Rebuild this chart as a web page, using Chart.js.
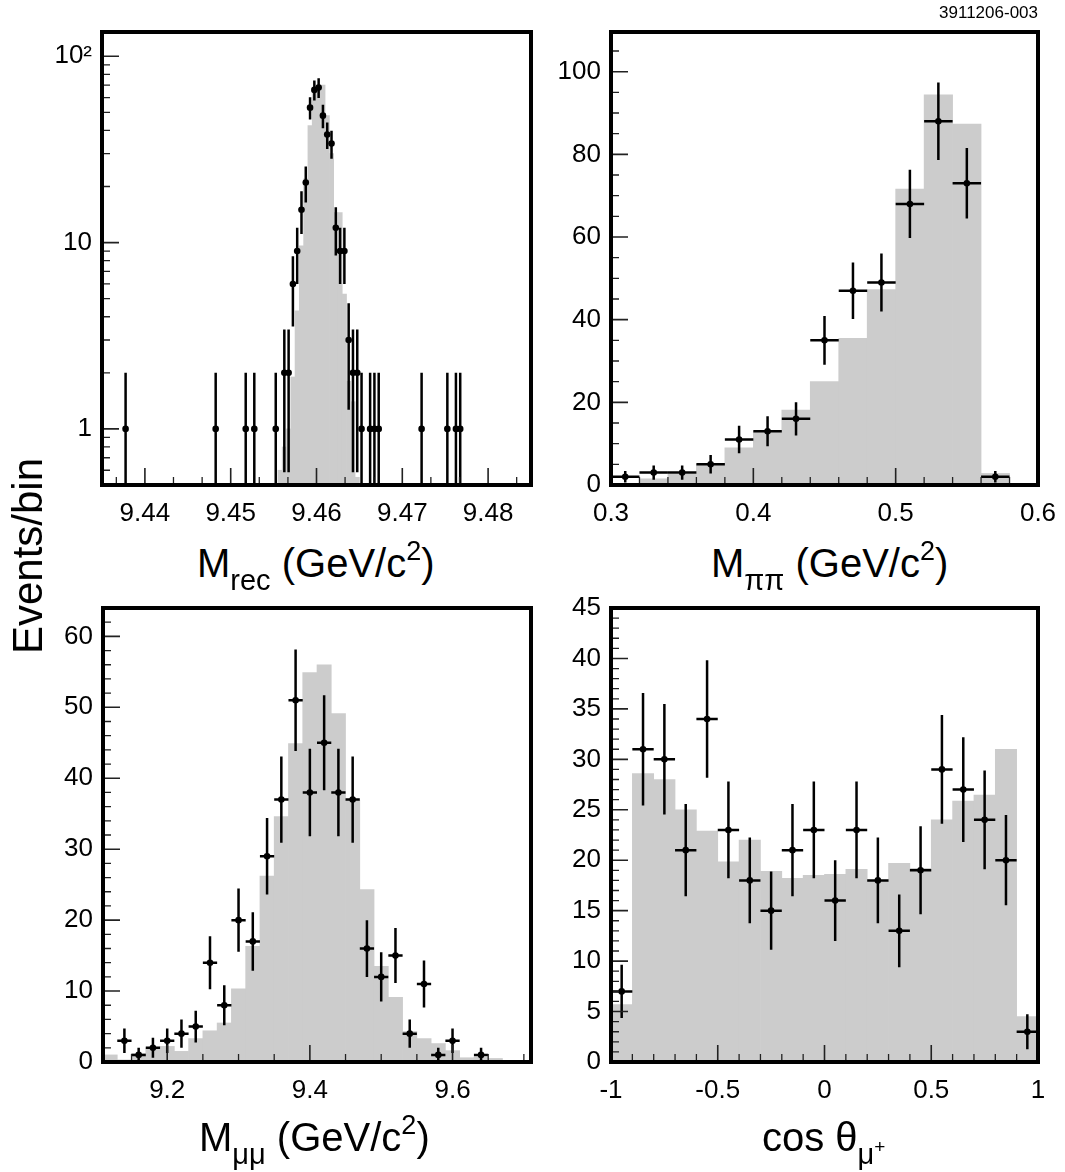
<!DOCTYPE html>
<html>
<head>
<meta charset="utf-8">
<script src="https://cdn.jsdelivr.net/npm/chart.js@4.4.1/dist/chart.umd.min.js"></script>
<style>
  body { margin: 0; background: #fff; width: 1065px; height: 1172px; position: relative; overflow: hidden;
         font-family: "Liberation Sans", Arial, sans-serif; color: #000; }
  canvas { position: absolute; }
  .title { position: absolute; font-size: 40px; line-height: 40px; white-space: nowrap; }
  .sub { font-size: 29px; position: relative; top: 13px; }
  .sup { font-size: 27px; position: relative; top: -17px; }
  .sup2 { font-size: 19px; position: relative; top: -11px; }
  #ylab { position: absolute; left: -102px; top: 536px; width: 260px; height: 40px; line-height: 40px;
          font-size: 42px; text-align: center; transform: rotate(-90deg); white-space: nowrap; }
  #tag { position: absolute; right: 27px; top: 4px; font-size: 17px; line-height: 17px; }
</style>
</head>
<body>
<canvas id="cRec" width="545" height="540" style="left:0;top:0"></canvas>
<canvas id="cPiPi" width="520" height="540" style="left:545px;top:0"></canvas>
<canvas id="cMuMu" width="545" height="530" style="left:0;top:590px"></canvas>
<canvas id="cCos" width="520" height="530" style="left:545px;top:590px"></canvas>

<div id="tag">3911206-003</div>
<div id="ylab">Events/bin</div>
<div class="title" style="left:197px;top:543px">M<span class="sub">rec</span> (GeV/c<span class="sup">2</span>)</div>
<div class="title" style="left:711px;top:543px">M<span class="sub">ππ</span> (GeV/c<span class="sup">2</span>)</div>
<div class="title" style="left:199px;top:1117px">M<span class="sub">μμ</span> (GeV/c<span class="sup">2</span>)</div>
<div class="title" style="left:762px;top:1117px">cos θ<span class="sub">μ<span class="sup2">+</span></span></div>

<script>
// ---- M_rec (0.5 MeV bins, log y) ----
const recPointX = [9.43775, 9.44825, 9.45175, 9.45275, 9.45525, 9.45625, 9.45675, 9.45725, 9.45775, 9.45825,
                   9.45875, 9.45925, 9.45975, 9.46025, 9.46075, 9.46125, 9.46175, 9.46225, 9.46275, 9.46325,
                   9.46375, 9.46425, 9.46475, 9.46525, 9.46625, 9.46675, 9.46725, 9.47225, 9.47525, 9.47625, 9.47675];
const recPointN = [1, 1, 1, 1, 1, 2, 2, 6, 9, 15,
                   21, 53, 66, 68, 48, 38, 34, 12, 9, 9,
                   3, 2, 2, 1, 1, 1, 1, 1, 1, 1, 1];
const recMcX = [9.45575, 9.45625, 9.45675, 9.45725, 9.45775, 9.45825, 9.45875, 9.45925, 9.45975, 9.46025,
                9.46075, 9.46125, 9.46175, 9.46225, 9.46275, 9.46325, 9.46375, 9.46425, 9.46475];
const recMcN = [0.6, 0.8, 1.0, 1.9, 4.3, 9.6, 22, 42.5, 65, 70,
                70, 48, 30, 14.5, 14.5, 5.3, 1.8, 1.4, 0.55];
const recXMajor = [9.44, 9.45, 9.46, 9.47, 9.48];
const recXLabels = ['9.44', '9.45', '9.46', '9.47', '9.48'];
const recXMinor = [9.43667, 9.44333, 9.44667, 9.45333, 9.45667, 9.46333, 9.46667, 9.47333, 9.47667, 9.48333];
const recYMajor = [1, 10, 100];
const recYLabels = ['1', '10', '10²'];
const recYMinor = [0.6, 0.7, 0.8, 0.9, 2, 3, 4, 5, 6, 7, 8, 9, 20, 30, 40, 50, 60, 70, 80, 90];

// ---- M_pipi (20 MeV bins) ----
const pipiMcX = [0.31, 0.33, 0.35, 0.37, 0.39, 0.41, 0.43, 0.45, 0.47, 0.49, 0.51, 0.53, 0.55, 0.57, 0.59];
const pipiMcN = [0.3, 1.5, 2.6, 5.0, 9.0, 12.9, 18.1, 25.0, 35.5, 47.3, 71.6, 94.4, 87.3, 2.8, 0];
const pipiPointX = [0.31, 0.33, 0.35, 0.37, 0.39, 0.41, 0.43, 0.45, 0.47, 0.49, 0.51, 0.53, 0.55, 0.57];
const pipiPointN = [2, 3, 3, 5, 11, 13, 16, 35, 47, 49, 68, 88, 73, 2];
const pipiXMajor = [0.3, 0.4, 0.5, 0.6];
const pipiXLabels = ['0.3', '0.4', '0.5', '0.6'];
const pipiXMinor = [0.32, 0.34, 0.36, 0.38, 0.42, 0.44, 0.46, 0.48, 0.52, 0.54, 0.56, 0.58];
const pipiYMajor = [0, 20, 40, 60, 80, 100];
const pipiYLabels = ['0', '20', '40', '60', '80', '100'];
const pipiYMinor = [5, 10, 15, 25, 30, 35, 45, 50, 55, 65, 70, 75, 85, 90, 95, 105];

// ---- M_mumu (20 MeV bins) ----
const mumuMcX = [9.12, 9.14, 9.16, 9.18, 9.20, 9.22, 9.24, 9.26, 9.28, 9.30,
                 9.32, 9.34, 9.36, 9.38, 9.40, 9.42, 9.44, 9.46, 9.48, 9.50,
                 9.52, 9.54, 9.56, 9.58, 9.60, 9.62, 9.64, 9.66, 9.68, 9.70];
const mumuMcN = [1.0, 0.3, 1.2, 2.0, 2.2, 1.5, 3.3, 4.4, 5.5, 10.3,
                 16.3, 26.2, 34.6, 44.9, 54.9, 56.0, 49.1, 36.9, 24.3, 13.5,
                 9.1, 4.3, 3.3, 2.6, 1.6, 0.6, 0.7, 0.5, 0, 0];
const mumuPointX = [9.14, 9.16, 9.18, 9.20, 9.22, 9.24, 9.26, 9.28, 9.30, 9.32,
                    9.34, 9.36, 9.38, 9.40, 9.42, 9.44, 9.46, 9.48, 9.50, 9.52,
                    9.54, 9.56, 9.58, 9.60, 9.64];
const mumuPointN = [3, 1, 2, 3, 4, 5, 14, 8, 20, 17,
                    29, 37, 51, 38, 45, 38, 37, 16, 12, 15,
                    4, 11, 1, 3, 1];
const mumuXMajor = [9.2, 9.4, 9.6];
const mumuXLabels = ['9.2', '9.4', '9.6'];
const mumuXMinor = [9.15, 9.25, 9.3, 9.35, 9.45, 9.5, 9.55, 9.65, 9.7];
const mumuYMajor = [0, 10, 20, 30, 40, 50, 60];
const mumuYLabels = ['0', '10', '20', '30', '40', '50', '60'];
const mumuYMinor = [2, 4, 6, 8, 12, 14, 16, 18, 22, 24, 26, 28, 32, 34, 36, 38, 42, 44, 46, 48, 52, 54, 56, 58, 62];

// ---- cos theta (0.1 bins) ----
const cosX = [-0.95, -0.85, -0.75, -0.65, -0.55, -0.45, -0.35, -0.25, -0.15, -0.05,
              0.05, 0.15, 0.25, 0.35, 0.45, 0.55, 0.65, 0.75, 0.85, 0.95];
const cosMcN = [5.7, 28.6, 28.0, 25.0, 22.9, 19.85, 22.0, 18.9, 18.2, 18.5,
                18.6, 19.1, 17.9, 19.7, 19.2, 24.0, 25.85, 26.45, 31.0, 4.5];
const cosPointN = [7, 31, 30, 21, 34, 23, 18, 15, 21, 23,
                   16, 23, 18, 13, 19, 29, 27, 24, 20, 3];
const cosXMajor = [-1, -0.5, 0, 0.5, 1];
const cosXLabels = ['-1', '-0.5', '0', '0.5', '1'];
const cosXMinor = [-0.9, -0.8, -0.7, -0.6, -0.4, -0.3, -0.2, -0.1, 0.1, 0.2, 0.3, 0.4, 0.6, 0.7, 0.8, 0.9];
const cosYMajor = [0, 5, 10, 15, 20, 25, 30, 35, 40, 45];
const cosYLabels = ['0', '5', '10', '15', '20', '25', '30', '35', '40', '45'];
const cosYMinor = [];
for (let v = 1; v < 45; v++) if (v % 5 !== 0) cosYMinor.push(v);

const FONT = '"Liberation Sans", Arial, sans-serif';

// sqrt(N) error bars, horizontal bar = bin width
const errorBars = {
    id: 'errorBars',
    afterDatasetsDraw(chart, args, opts) {
        const { ctx, chartArea: a, scales: { x, y } } = chart;
        const pts = chart.data.datasets[1].data;
        ctx.save();
        ctx.beginPath();
        ctx.rect(a.left, a.top, a.right - a.left, a.bottom - a.top);
        ctx.clip();
        ctx.strokeStyle = '#000';
        ctx.lineWidth = 2.5;
        pts.forEach(p => {
            const e = Math.sqrt(p.y);
            const px = x.getPixelForValue(p.x);
            const py = y.getPixelForValue(p.y);
            const lo = (p.y - e) > 0 ? y.getPixelForValue(p.y - e) : a.bottom;
            const hi = y.getPixelForValue(p.y + e);
            ctx.beginPath();
            ctx.moveTo(px, lo);
            ctx.lineTo(px, hi);
            ctx.moveTo(x.getPixelForValue(p.x - opts.halfWidth), py);
            ctx.lineTo(x.getPixelForValue(p.x + opts.halfWidth), py);
            ctx.stroke();
        });
        ctx.restore();
    }
};

// ROOT style frame with inward ticks
const frameTicks = {
    id: 'frameTicks',
    afterDatasetsDraw(chart, args, opts) {
        const { ctx, chartArea: a, scales: { x, y } } = chart;
        ctx.save();
        ctx.strokeStyle = '#222';
        const draw = (vals, len, w, horiz) => {
            ctx.lineWidth = w;
            ctx.beginPath();
            vals.forEach(v => {
                if (horiz) {
                    const px = x.getPixelForValue(v);
                    ctx.moveTo(px, a.bottom);
                    ctx.lineTo(px, a.bottom - len);
                } else {
                    const py = y.getPixelForValue(v);
                    ctx.moveTo(a.left, py);
                    ctx.lineTo(a.left + len, py);
                }
            });
            ctx.stroke();
        };
        draw(opts.xMinor, 8, 1.3, true);
        draw(opts.xMajor, 17, 1.6, true);
        draw(opts.yMinor, 8, 1.3, false);
        draw(opts.yMajor, 17, 1.6, false);
        ctx.strokeStyle = '#000';
        ctx.lineWidth = 4;
        ctx.strokeRect(a.left, a.top, a.right - a.left, a.bottom - a.top);
        ctx.restore();
    }
};

function labelFor(majors, labels) {
    return v => {
        const i = majors.findIndex(m => Math.abs(m - v) < 1e-7);
        return i < 0 ? '' : labels[i];
    };
}

// fixed axis boxes, no extra label padding, so the frame lands where the layout says
function fixBox(size, horiz) {
    return s => {
        if (horiz) s.height = size; else s.width = size;
        s.paddingLeft = s.paddingRight = s.paddingTop = s.paddingBottom = 0;
    };
}

// c.axisW / c.axisH: room kept for the tick labels left of / below the frame
function makePanel(c) {
    const xTicks = c.xMajor.concat(c.xMinor).sort((p, q) => p - q);
    const yTicks = c.yMajor.concat(c.yMinor).sort((p, q) => p - q);
    return new Chart(document.getElementById(c.id), {
        type: 'bar',
        data: {
            datasets: [
                {
                    type: 'bar',
                    data: c.mcX.map((x, i) => ({ x: x, y: c.mcN[i] })),
                    backgroundColor: '#cccccc',
                    borderWidth: 0,
                    barPercentage: 1,
                    categoryPercentage: 1,
                    order: 2
                },
                {
                    type: 'scatter',
                    data: c.ptX.map((x, i) => ({ x: x, y: c.ptN[i] })),
                    pointRadius: 3.3,
                    pointBackgroundColor: '#000',
                    pointBorderWidth: 0,
                    order: 1
                }
            ]
        },
        options: {
            responsive: false,
            animation: false,
            events: [],
            layout: { padding: { left: 0, bottom: 0, top: c.padTop, right: c.padRight } },
            plugins: {
                legend: { display: false },
                tooltip: { enabled: false },
                errorBars: { halfWidth: c.binW / 2 },
                frameTicks: { xMajor: c.xMajor, xMinor: c.xMinor, yMajor: c.yMajor, yMinor: c.yMinor }
            },
            scales: {
                x: {
                    type: 'linear', min: c.xMin, max: c.xMax, offset: false,
                    grid: { display: false, drawTicks: false, offset: false },
                    border: { display: false },
                    afterBuildTicks: s => { s.ticks = xTicks.map(v => ({ value: v })); },
                    afterFit: fixBox(c.axisH, true),
                    ticks: { autoSkip: false, maxRotation: 0, padding: 13, color: '#000',
                             font: { family: FONT, size: 26 }, callback: labelFor(c.xMajor, c.xLabels) }
                },
                y: {
                    type: c.log ? 'logarithmic' : 'linear', min: c.yMin, max: c.yMax,
                    grid: { display: false, drawTicks: false },
                    border: { display: false },
                    afterBuildTicks: s => { s.ticks = yTicks.map(v => ({ value: v })); },
                    afterFit: fixBox(c.axisW, false),
                    ticks: { autoSkip: false, padding: 10, color: '#000',
                             font: { family: FONT, size: 26 }, callback: labelFor(c.yMajor, c.yLabels) }
                }
            }
        },
        plugins: [errorBars, frameTicks]
    });
}

makePanel({ id: 'cRec', axisW: 102, axisH: 55, padTop: 32, padRight: 14,
    mcX: recMcX, mcN: recMcN, ptX: recPointX, ptN: recPointN, binW: 0.0005,
    xMin: 9.435, xMax: 9.485, yMin: 0.5, yMax: 135, log: true,
    xMajor: recXMajor, xLabels: recXLabels, xMinor: recXMinor,
    yMajor: recYMajor, yLabels: recYLabels, yMinor: recYMinor });

makePanel({ id: 'cPiPi', axisW: 66, axisH: 55, padTop: 32, padRight: 27,
    mcX: pipiMcX, mcN: pipiMcN, ptX: pipiPointX, ptN: pipiPointN, binW: 0.02,
    xMin: 0.3, xMax: 0.6, yMin: 0, yMax: 109.6, log: false,
    xMajor: pipiXMajor, xLabels: pipiXLabels, xMinor: pipiXMinor,
    yMajor: pipiYMajor, yLabels: pipiYLabels, yMinor: pipiYMinor });

makePanel({ id: 'cMuMu', axisW: 103, axisH: 58, padTop: 18, padRight: 14,
    mcX: mumuMcX, mcN: mumuMcN, ptX: mumuPointX, ptN: mumuPointN, binW: 0.02,
    xMin: 9.11, xMax: 9.71, yMin: 0, yMax: 64, log: false,
    xMajor: mumuXMajor, xLabels: mumuXLabels, xMinor: mumuXMinor,
    yMajor: mumuYMajor, yLabels: mumuYLabels, yMinor: mumuYMinor });

makePanel({ id: 'cCos', axisW: 66, axisH: 58, padTop: 18, padRight: 27,
    mcX: cosX, mcN: cosMcN, ptX: cosX, ptN: cosPointN, binW: 0.1,
    xMin: -1, xMax: 1, yMin: 0, yMax: 45, log: false,
    xMajor: cosXMajor, xLabels: cosXLabels, xMinor: cosXMinor,
    yMajor: cosYMajor, yLabels: cosYLabels, yMinor: cosYMinor });
</script>
</body>
</html>
